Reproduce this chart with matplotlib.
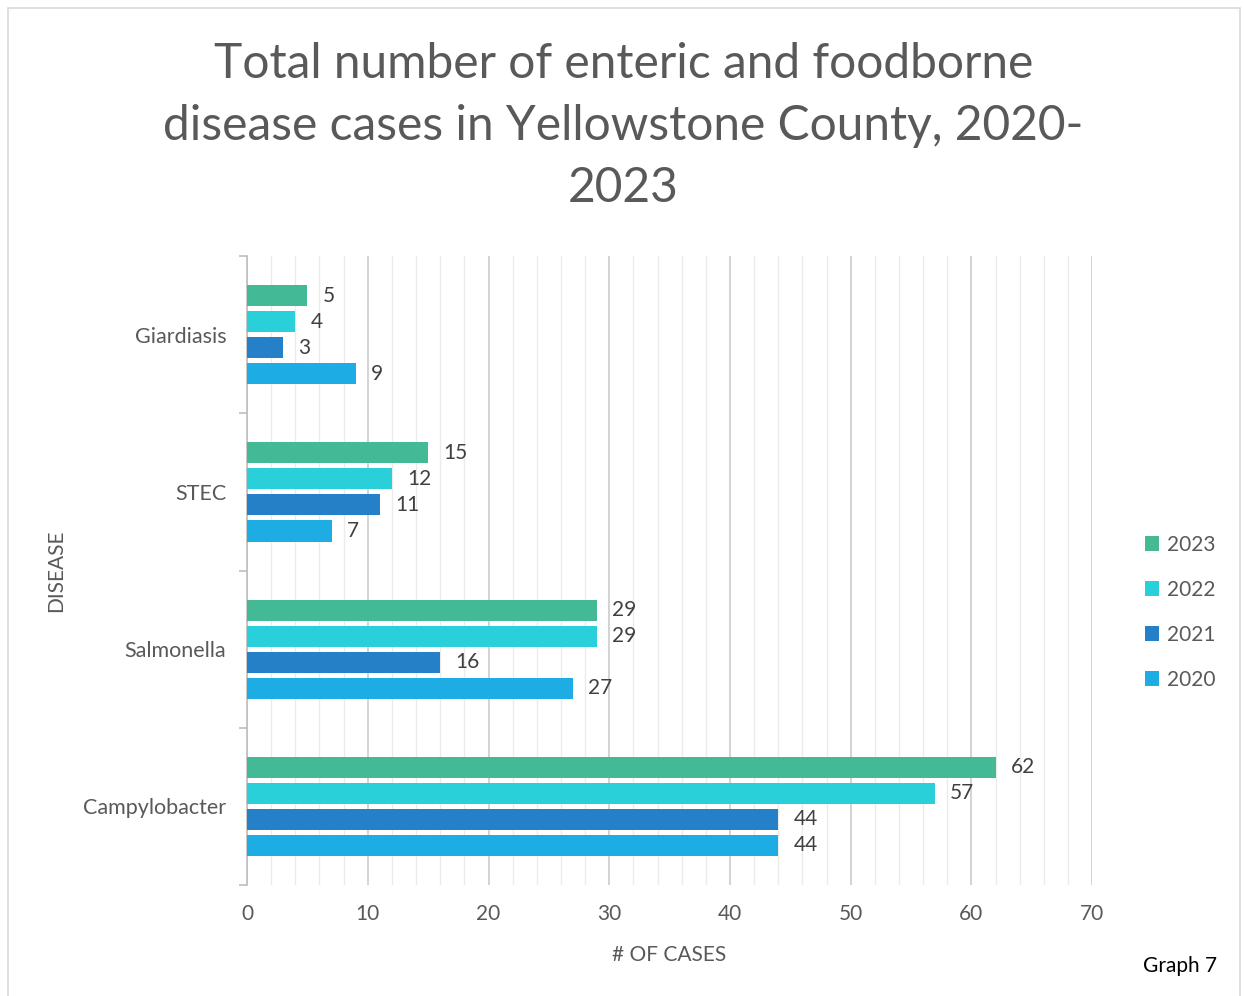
import matplotlib.pyplot as plt
import numpy as np
from matplotlib.patches import Rectangle
from matplotlib.ticker import MultipleLocator

diseases = ['Campylobacter', 'Salmonella', 'STEC', 'Giardiasis']
years = ['2023', '2022', '2021', '2020']
cases = {
    '2023': [62, 29, 15, 5],
    '2022': [57, 29, 12, 4],
    '2021': [44, 16, 11, 3],
    '2020': [44, 27, 7, 9],
}
colors = {'2023': '#43BA95', '2022': '#29CFD9', '2021': '#2580C7', '2020': '#1DADE4'}

plt.rcParams['font.family'] = ['Lato', 'DejaVu Sans']

fig = plt.figure(figsize=(12.44, 9.96), dpi=100)
fig.patches.append(Rectangle((0.0065, -0.01), 0.9905, 1.002, transform=fig.transFigure,
                             fill=False, edgecolor='#d9d9d9', lw=1.2))
ax = fig.add_axes([0.1986, 0.1114, 0.6793, 0.6315])

y = np.arange(len(diseases))
step = 0.1656
offs = [1.5 * step, 0.5 * step, -0.5 * step, -1.5 * step]
for yr, off in zip(years, offs):
    vals = cases[yr]
    ax.barh(y + off, vals, height=0.134, color=colors[yr], label=yr, zorder=3)
    for yi, v in zip(y, vals):
        ax.text(v + 1.25, yi + off, str(v), va='center', ha='left', fontsize=15, color='#404040')

ax.set_xlim(0, 70)
ax.set_ylim(-0.5, 3.5)
ax.xaxis.set_major_locator(MultipleLocator(10))
ax.xaxis.set_minor_locator(MultipleLocator(2))
ax.grid(which='major', axis='x', color='#d0d0d0', lw=1.3, zorder=0)
ax.grid(which='minor', axis='x', color='#ebebeb', lw=1.0, zorder=0)
ax.tick_params(axis='x', which='both', length=0, labelsize=15, labelcolor='#595959', pad=14)
ax.set_yticks(y)
ax.set_yticklabels(diseases)
ax.set_yticks(np.arange(-0.5, 4, 1), minor=True)
ax.tick_params(axis='y', which='major', length=0, labelsize=15.5, labelcolor='#595959', pad=15)
ax.tick_params(axis='y', which='minor', length=6, color='#bfbfbf', width=1.2)
for s in ['top', 'right', 'bottom']:
    ax.spines[s].set_visible(False)
ax.spines['left'].set_color('#bfbfbf')
ax.spines['left'].set_linewidth(1.2)

ax.set_xlabel('# OF CASES', fontsize=15, color='#595959', labelpad=15)
fig.text(0.045, 0.427, 'DISEASE', rotation=90, ha='center', va='center', fontsize=15, color='#595959')

fig.text(0.501, 0.8735, 'Total number of enteric and foodborne\ndisease cases in Yellowstone County, 2020-\n2023',
         ha='center', va='center', fontsize=34.5, color='#595959', fontweight='normal', linespacing=1.5)

h, l = ax.get_legend_handles_labels()
fig.legend(h, l, loc='center left', bbox_to_anchor=(0.905, 0.385), frameon=False,
           fontsize=15, labelcolor='#595959', handlelength=0.7, handleheight=0.7,
           handletextpad=0.4, labelspacing=1.2)

fig.text(0.978, 0.03, 'Graph 7', ha='right', va='center', fontsize=15, color='black')

fig.savefig('out.png', dpi=100)
